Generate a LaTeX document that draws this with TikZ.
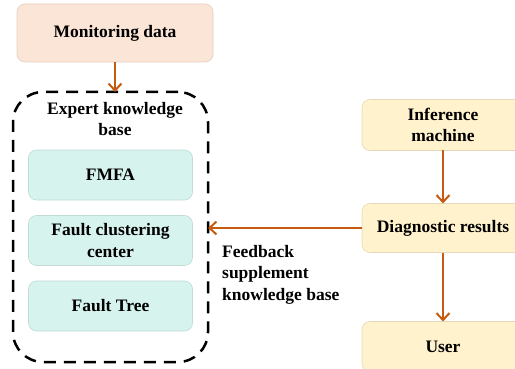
\documentclass[tikz,border=0pt]{standalone}
\usepackage{fontspec}
\setmainfont{Liberation Serif}
\usetikzlibrary{positioning,arrows.meta}
\definecolor{peach}{HTML}{FBE5D6}
\definecolor{mint}{HTML}{D6F3EE}
\definecolor{cream}{HTML}{FFF2CC}
\definecolor{rust}{HTML}{C55A11}
\newcommand{\boxfont}{\fontsize{17.5}{21.5}\selectfont\bfseries}

\begin{document}
\begin{tikzpicture}[font=\boxfont,
  box/.style={rounded corners=8pt, inner sep=0pt, outer sep=0pt, align=center, draw=#1!90!black, fill=#1, line width=0.6pt},
  flow/.style={-{Straight Barb[length=7pt,width=13pt]}, rust, line width=2pt}]
\useasboundingbox (0,0) rectangle (515pt,-369pt);

\node[box=peach, minimum width=196pt, minimum height=58pt] (mon) at (115pt,-33pt) {Monitoring data};
\node[draw, line width=2.5pt, dash pattern=on 12pt off 8pt, rounded corners=30pt, outer sep=0pt,
  minimum width=195pt, minimum height=270pt, below=30pt of mon, xshift=-4.5pt] (kb) {};
\node[below=10pt of kb.north, xshift=4.5pt, align=center, inner sep=0pt] (kbtitle) {Expert knowledge\\base};

\node[box=mint, minimum width=164pt, minimum height=50pt, below=58pt of kb.north] (fmfa) {FMFA};
\node[box=mint, minimum width=164pt, minimum height=50pt, below=15.5pt of fmfa] (fcc) {Fault clustering\\center};
\node[box=mint, minimum width=164pt, minimum height=50pt, below=15.5pt of fcc] (ft) {Fault Tree};

\node[box=cream, minimum width=162pt, minimum height=51pt] (inf) at (443pt,-125pt) {Inference\\machine};
\node[box=cream, minimum width=162pt, minimum height=49pt, below=53pt of inf] (diag) {Diagnostic results};
\node[box=cream, minimum width=162pt, minimum height=50pt, below=69pt of diag] (user) {User};

\draw[flow] (mon.south) -- (mon.south |- kb.north);
\draw[flow] (inf) -- (diag);
\draw[flow] (diag) -- (user);
\draw[flow] (diag.west) -- (diag.west -| kb.east);
\node[below right=18pt and 14pt of kb.east, align=left, inner sep=0pt] (fb) {Feedback\\supplement\\knowledge base};
\end{tikzpicture}
\end{document}
